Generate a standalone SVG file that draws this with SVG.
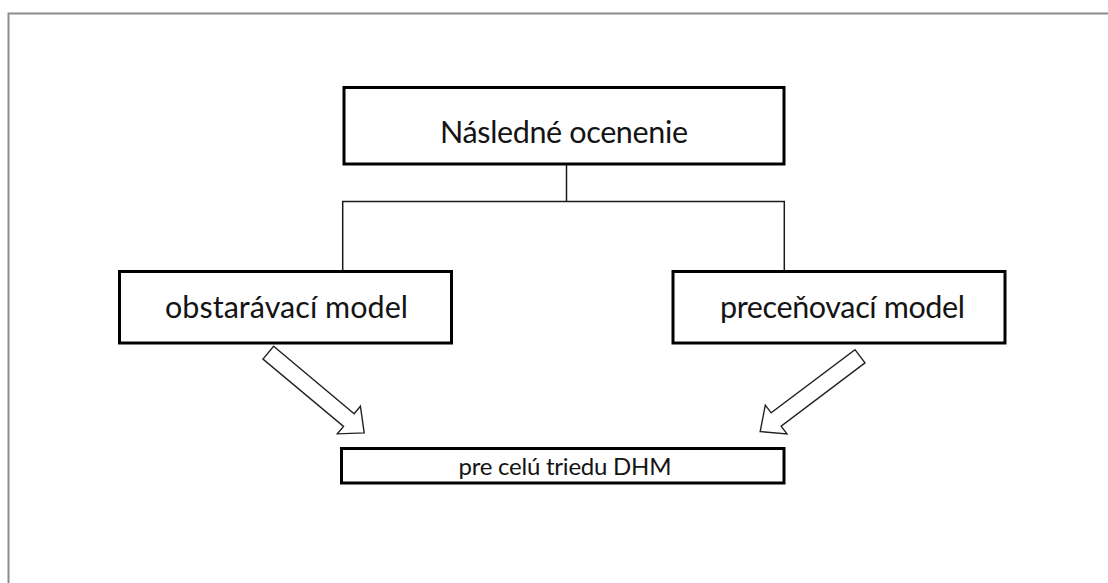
<svg xmlns="http://www.w3.org/2000/svg" width="1108" height="583" viewBox="0 0 1108 583">
  <style>
    .frame { fill: none; stroke: #8c8c8c; stroke-width: 2; }
    .box { fill: #ffffff; stroke: #000000; stroke-width: 3; }
    .link { fill: none; stroke: #1a1a1a; stroke-width: 1.5; }
    .arrow { fill: #ffffff; stroke: #222222; stroke-width: 1.4; stroke-linejoin: miter; }
    .label { font-family: Lato, "Open Sans", "Liberation Sans", sans-serif; fill: #141414; text-anchor: middle; }
  </style>
  <defs>
    <!-- hollow block arrow drawn along +x, tail at origin -->
    <path id="blockArrow" class="arrow" d="M0,-8.3 L105,-8.3 L105,-18 L125,0 L105,18 L105,8.3 L0,8.3 Z"/>
  </defs>

  <rect width="1108" height="583" fill="#ffffff"/>

  <!-- page frame (top and left edges) -->
  <path class="frame" d="M8.5,583 L8.5,13.5 L1108,13.5"/>

  <!-- connectors -->
  <g id="connectors">
    <path class="link" d="M566.5,164 L566.5,201.5"/>
    <path class="link" d="M342.7,271 L342.7,201.5 L784.3,201.5 L784.3,271"/>
    <use href="#blockArrow" transform="translate(268.3,352.7) rotate(39.9)"/>
    <use href="#blockArrow" transform="translate(860,356.3) rotate(143)"/>
  </g>

  <g id="node-root">
    <rect class="box" x="344" y="87.5" width="440" height="76.5"/>
    <text class="label" x="564" y="143" font-size="30.5" textLength="248">Následné ocenenie</text>
  </g>

  <g id="node-cost">
    <rect class="box" x="119.5" y="271.5" width="332" height="71.5"/>
    <text class="label" x="286.5" y="318" font-size="30.5" textLength="243">obstarávací model</text>
  </g>

  <g id="node-reval">
    <rect class="box" x="673" y="271.5" width="332" height="71.5"/>
    <text class="label" x="842.5" y="318" font-size="30.5" textLength="245">preceňovací model</text>
  </g>

  <g id="node-class">
    <rect class="box" x="341.5" y="448.5" width="442.5" height="34.5"/>
    <text class="label" x="565" y="475" font-size="24" textLength="213">pre celú triedu DHM</text>
  </g>
</svg>
